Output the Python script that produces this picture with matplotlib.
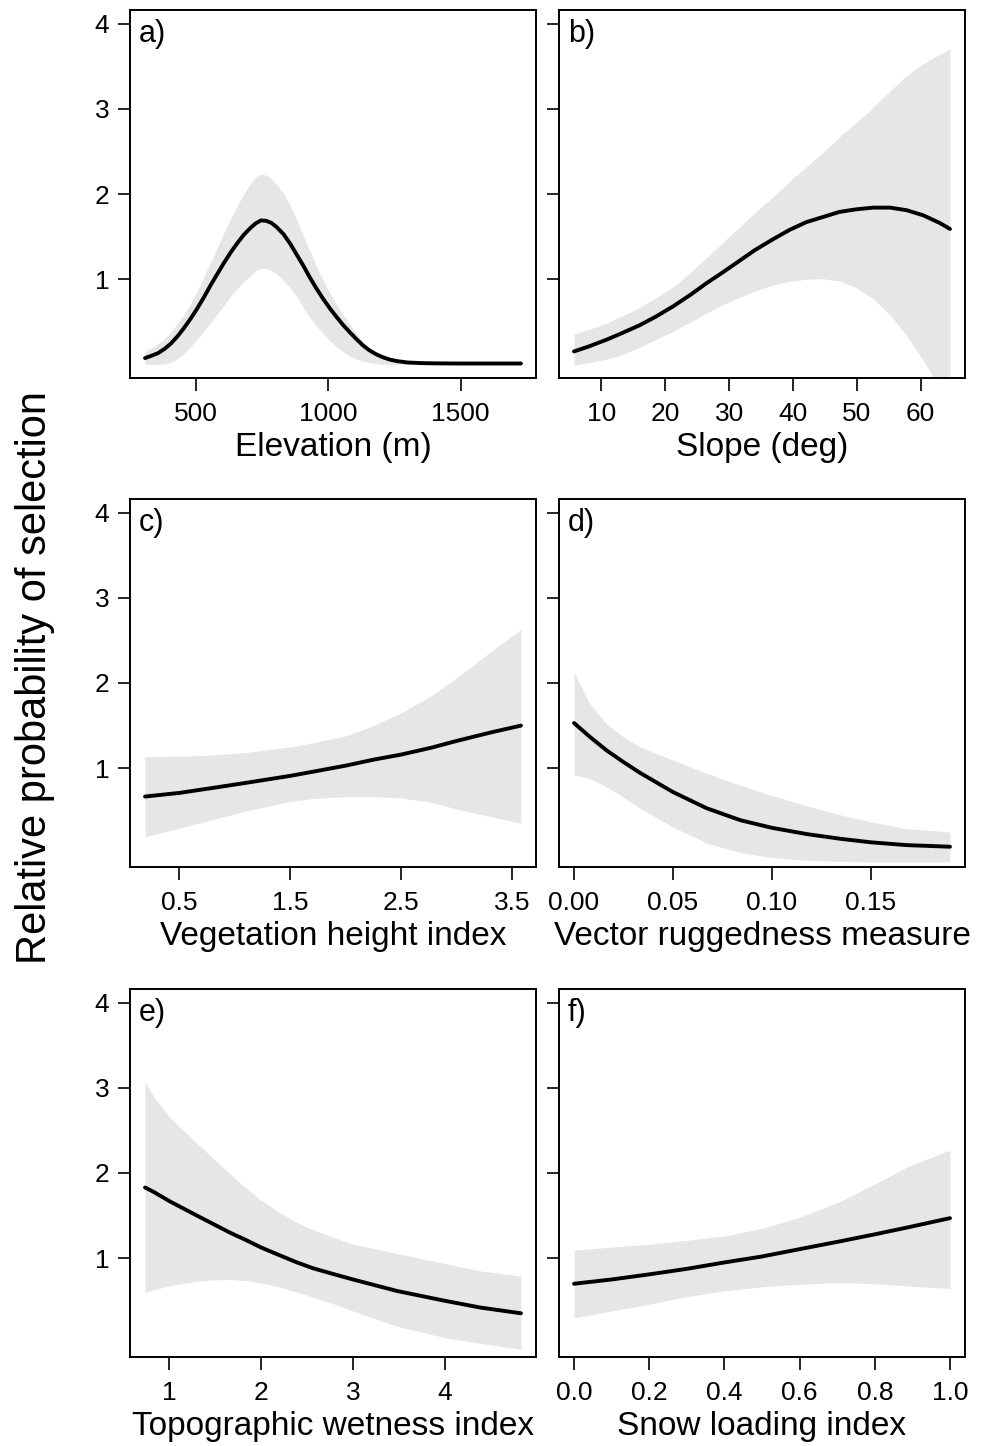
import matplotlib
matplotlib.use("Agg")
import matplotlib.pyplot as plt
import numpy as np

plt.rcParams['font.family'] = ['Liberation Sans', 'DejaVu Sans']

# a) elevation
elev_x = [307, 330, 355, 380, 405, 430, 455, 480, 505, 530, 555, 580, 605, 630, 655, 680,
          705, 725, 745, 765, 785, 805, 830, 855, 880, 905, 930, 955, 980, 1005, 1030,
          1055, 1080, 1105, 1130, 1155, 1180, 1205, 1230, 1260, 1300, 1350, 1400, 1500,
          1600, 1728]
elev_fit = [0.074, 0.10, 0.13, 0.18, 0.245, 0.33, 0.43, 0.54, 0.66, 0.79, 0.93, 1.06,
            1.19, 1.31, 1.42, 1.52, 1.60, 1.655, 1.69, 1.685, 1.66, 1.61, 1.53, 1.42,
            1.29, 1.16, 1.02, 0.89, 0.77, 0.66, 0.56, 0.465, 0.38, 0.30, 0.225, 0.165,
            0.12, 0.085, 0.058, 0.038, 0.022, 0.015, 0.012, 0.01, 0.01, 0.01]
elev_hi = [0.15, 0.19, 0.24, 0.30, 0.38, 0.48, 0.59, 0.72, 0.87, 1.03, 1.20, 1.37, 1.54,
           1.71, 1.86, 2.00, 2.12, 2.20, 2.235, 2.22, 2.18, 2.11, 2.01, 1.87, 1.70, 1.51,
           1.33, 1.15, 0.99, 0.84, 0.71, 0.59, 0.47, 0.37, 0.26, 0.19, 0.13, 0.09, 0.06,
           0.04, 0.025, 0.016, 0.013, 0.012, 0.012, 0.012]
elev_lo = [0.0, 0.0, 0.0, 0.005, 0.025, 0.065, 0.13, 0.21, 0.30, 0.39, 0.49, 0.59, 0.69,
           0.80, 0.89, 0.97, 1.04, 1.10, 1.13, 1.125, 1.10, 1.06, 0.99, 0.90, 0.80, 0.67,
           0.55, 0.45, 0.36, 0.28, 0.21, 0.15, 0.10, 0.065, 0.04, 0.02, 0.01, 0.0, 0.0,
           0.0, 0.0, 0.0, 0.0, 0.0, 0.0, 0.0]

# b) slope
slope_x = [5.7, 8, 10.8, 13, 16.0, 18.5, 21.2, 24, 26.4, 29, 31.7, 34, 36.9, 39.5, 42.1,
           44.7, 47.3, 49.9, 52.6, 55.2, 57.8, 60.4, 63.0, 64.6]
slope_fit = [0.152, 0.21, 0.29, 0.36, 0.46, 0.56, 0.68, 0.82, 0.95, 1.08, 1.22, 1.34,
             1.47, 1.58, 1.67, 1.73, 1.79, 1.82, 1.84, 1.84, 1.81, 1.75, 1.66, 1.59]
slope_hi = [0.355, 0.41, 0.484, 0.56, 0.67, 0.78, 0.91, 1.08, 1.25, 1.43, 1.617, 1.78,
            1.969, 2.15, 2.32, 2.49, 2.67, 2.84, 3.02, 3.21, 3.39, 3.53, 3.64, 3.70]
slope_lo = [-0.01, 0.02, 0.06, 0.11, 0.20, 0.29, 0.39, 0.50, 0.60, 0.70, 0.79, 0.86,
            0.93, 0.975, 1.0, 1.005, 0.98, 0.90, 0.77, 0.58, 0.34, 0.05, -0.28, -0.5]

# c) vegetation height
veg_x = [0.19, 0.5, 0.81, 1.11, 1.5, 1.71, 2.0, 2.25, 2.5, 2.77, 3.0, 3.31, 3.58]
veg_fit = [0.667, 0.71, 0.77, 0.83, 0.91, 0.96, 1.03, 1.10, 1.16, 1.24, 1.32, 1.42, 1.50]
veg_hi = [1.135, 1.14, 1.155, 1.185, 1.25, 1.30, 1.38, 1.50, 1.65, 1.85, 2.06, 2.37, 2.63]
veg_lo = [0.196, 0.295, 0.40, 0.50, 0.61, 0.645, 0.665, 0.665, 0.65, 0.60, 0.52, 0.43, 0.355]

# d) vector ruggedness
vrm_x = [0.0, 0.0079, 0.0164, 0.0248, 0.0333, 0.05, 0.067, 0.084, 0.1, 0.118, 0.135,
         0.15, 0.168, 0.19]
vrm_fit = [1.53, 1.37, 1.21, 1.075, 0.946, 0.72, 0.53, 0.39, 0.30, 0.225, 0.17, 0.13,
           0.097, 0.078]
vrm_hi = [2.13, 1.76, 1.52, 1.37, 1.25, 1.095, 0.94, 0.80, 0.68, 0.555, 0.45, 0.37,
          0.29, 0.25]
vrm_lo = [0.92, 0.88, 0.78, 0.66, 0.53, 0.31, 0.12, 0.01, -0.05, -0.08, -0.095, -0.10,
          -0.10, -0.10]

# e) topographic wetness
twi_x = [0.735, 0.826, 1.0, 1.15, 1.30, 1.48, 1.66, 1.84, 2.0, 2.21, 2.39, 2.57, 2.8,
         3.0, 3.48, 4.0, 4.39, 4.83]
twi_fit = [1.83, 1.78, 1.67, 1.585, 1.50, 1.40, 1.30, 1.21, 1.125, 1.03, 0.95, 0.88,
           0.81, 0.75, 0.615, 0.50, 0.42, 0.353]
twi_hi = [3.07, 2.90, 2.66, 2.50, 2.35, 2.17, 1.99, 1.82, 1.68, 1.53, 1.42, 1.33, 1.24,
          1.165, 1.055, 0.937, 0.85, 0.79]
twi_lo = [0.596, 0.63, 0.675, 0.705, 0.73, 0.745, 0.75, 0.735, 0.71, 0.66, 0.60, 0.54,
          0.46, 0.38, 0.20, 0.067, 0.0, -0.07]

# f) snow loading
snow_x = [0.0, 0.1, 0.2, 0.3, 0.4, 0.5, 0.6, 0.71, 0.8, 0.886, 1.0]
snow_fit = [0.70, 0.75, 0.81, 0.875, 0.95, 1.02, 1.106, 1.20, 1.28, 1.36, 1.47]
snow_hi = [1.094, 1.13, 1.165, 1.21, 1.26, 1.35, 1.48, 1.67, 1.87, 2.07, 2.27]
snow_lo = [0.30, 0.38, 0.46, 0.55, 0.616, 0.665, 0.694, 0.714, 0.70, 0.675, 0.643]

panels = [
    ("a)", "Elevation (m)", elev_x, elev_fit, elev_lo, elev_hi, [500, 1000, 1500], ["500", "1000", "1500"]),
    ("b)", "Slope (deg)", slope_x, slope_fit, slope_lo, slope_hi, [10, 20, 30, 40, 50, 60], ["10", "20", "30", "40", "50", "60"]),
    ("c)", "Vegetation height index", veg_x, veg_fit, veg_lo, veg_hi, [0.5, 1.5, 2.5, 3.5], ["0.5", "1.5", "2.5", "3.5"]),
    ("d)", "Vector ruggedness measure", vrm_x, vrm_fit, vrm_lo, vrm_hi, [0.0, 0.05, 0.10, 0.15], ["0.00", "0.05", "0.10", "0.15"]),
    ("e)", "Topographic wetness index", twi_x, twi_fit, twi_lo, twi_hi, [1, 2, 3, 4], ["1", "2", "3", "4"]),
    ("f)", "Snow loading index", snow_x, snow_fit, snow_lo, snow_hi, [0.0, 0.2, 0.4, 0.6, 0.8, 1.0], ["0.0", "0.2", "0.4", "0.6", "0.8", "1.0"]),
]

W, H = 991, 1446
fig = plt.figure(figsize=(W / 100, H / 100), dpi=100)

col_left = [130, 559]
col_width = 406
row_top = [10, 499, 989]
row_height = 368

for i, (tag, xlabel, x, fit, lo, hi, xt, xtl) in enumerate(panels):
    r, c = divmod(i, 2)
    ax = fig.add_axes([col_left[c] / W, 1 - (row_top[r] + row_height) / H,
                       col_width / W, row_height / H])
    ax.fill_between(x, lo, hi, color='#e6e6e6', linewidth=0)
    ax.plot(x, fit, color='black', lw=2.8, solid_capstyle='round', solid_joinstyle='round')
    span = max(x) - min(x)
    ax.set_xlim(min(x) - 0.04 * span, max(x) + 0.04 * span)
    ax.set_ylim(-0.16, 4.16)
    ax.set_xticks(xt)
    ax.set_xticklabels(xtl)
    ax.set_yticks([1, 2, 3, 4])
    if c == 0:
        ax.set_yticklabels(["1", "2", "3", "4"])
    else:
        ax.set_yticklabels([])
    ax.tick_params(direction='out', length=9, width=1.2, labelsize=19)
    ax.tick_params(axis='x', pad=8)
    ax.tick_params(axis='y', pad=6)
    for s in ax.spines.values():
        s.set_linewidth(1.4)
    ax.set_xlabel(xlabel, fontsize=24)
    ax.xaxis.set_label_coords(0.5, -0.148)
    ax.text(0.022, 0.975, tag, transform=ax.transAxes, ha='left', va='top', fontsize=22)

fig.text(35 / W, 1 - 677 / H, "Relative probability of selection", rotation=90,
         ha='center', va='center', fontsize=30)

fig.savefig("out.png", dpi=100)
